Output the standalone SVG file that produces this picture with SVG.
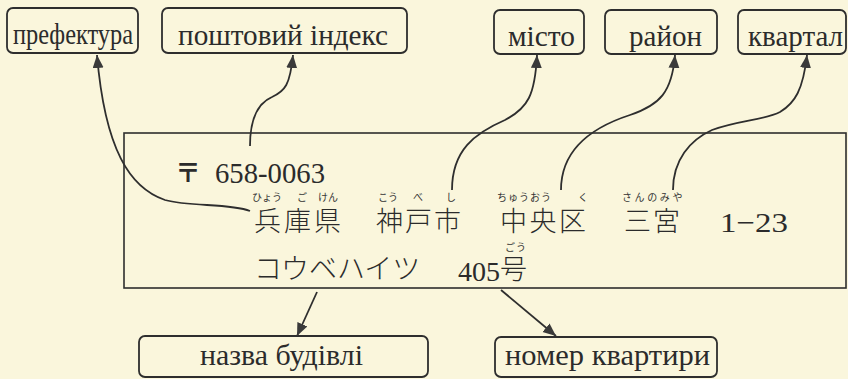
<svg xmlns="http://www.w3.org/2000/svg" width="848" height="379" viewBox="0 0 848 379">
<defs>
<style>
.box{fill:none;stroke:#2e2e2e;stroke-width:1.8}
.lbl{font-family:"Liberation Serif","Times New Roman",serif;font-size:29px;fill:#2b2b2b}
.num{font-family:"Liberation Serif","Noto Sans CJK JP",serif;fill:#2b2b2b}
.jp{font-family:"Noto Sans CJK JP","Noto Sans CJK SC",sans-serif;font-weight:300;fill:#2b2b2b}
.ruby{font-family:"Noto Sans CJK JP","Noto Sans CJK SC",sans-serif;font-size:10px;fill:#333}
.conn{fill:none;stroke:#2e2e2e;stroke-width:1.8;marker-end:url(#ah)}
</style>
<marker id="ah" markerUnits="userSpaceOnUse" markerWidth="14" markerHeight="12" refX="13" refY="5.5" orient="auto">
<path d="M0,0 L13,5.5 L0,11 Z" fill="#3a3a3a"/>
</marker>
</defs>
<rect width="848" height="379" fill="#faf6dc"/>

<g id="address">
<rect x="124" y="133" width="722" height="155" fill="none" stroke="#2e2e2e" stroke-width="1.6"/>
<text x="175" y="182" font-size="26" font-weight="bold" font-family="Noto Sans CJK JP, sans-serif" fill="#2b2b2b">〒</text>
<text class="num" x="215" y="183" font-size="29" textLength="110" lengthAdjust="spacingAndGlyphs">658-0063</text>
<text class="ruby" x="252" y="201">ひょう</text>
<text class="ruby" x="297" y="201">ご</text>
<text class="ruby" x="318" y="201">けん</text>
<text class="ruby" x="378" y="201">こう</text>
<text class="ruby" x="413" y="201">べ</text>
<text class="ruby" x="446" y="201">し</text>
<text class="ruby" x="497" y="201" letter-spacing="1">ちゅうおう</text>
<text class="ruby" x="578" y="201">く</text>
<text class="ruby" x="622" y="201" letter-spacing="2.6">さんのみや</text>
<text class="jp" x="254" y="231" font-size="27" letter-spacing="3">兵庫県</text>
<text class="jp" x="376" y="231" font-size="27" letter-spacing="2">神戸市</text>
<text class="jp" x="500" y="231" font-size="27" letter-spacing="2.5">中央区</text>
<text class="jp" x="624" y="231" font-size="27" letter-spacing="2">三宮</text>
<text class="num" x="720" y="232" font-size="28" textLength="68" lengthAdjust="spacingAndGlyphs">1−23</text>
<text class="ruby" x="505" y="251" letter-spacing="1">ごう</text>
<text class="jp" x="254" y="279" font-size="28">コウベハイツ</text>
<text class="num" x="458" y="281" font-size="28">405<tspan font-family="Noto Sans CJK JP, sans-serif" font-weight="300" font-size="27" dy="-2">号</tspan></text>
</g>

<g id="prefecture"><rect class="box" x="7" y="8" width="131" height="45" rx="6"/><text class="lbl" x="13" y="44" font-size="23" textLength="120" lengthAdjust="spacingAndGlyphs">префектура</text></g>
<g id="postcode"><rect class="box" x="162" y="8" width="245" height="45" rx="6"/><text class="lbl" x="178" y="45" textLength="210" lengthAdjust="spacingAndGlyphs">поштовий індекс</text></g>
<g id="city"><rect class="box" x="494" y="10" width="90" height="44" rx="6"/><text class="lbl" x="508" y="46" textLength="67" lengthAdjust="spacingAndGlyphs">місто</text></g>
<g id="district"><rect class="box" x="605" y="10" width="112" height="44" rx="6"/><text class="lbl" x="629" y="46" textLength="73" lengthAdjust="spacingAndGlyphs">район</text></g>
<g id="quarter"><rect class="box" x="738" y="10" width="108" height="44" rx="6"/><text class="lbl" x="748" y="46" textLength="95" lengthAdjust="spacingAndGlyphs">квартал</text></g>
<g id="building"><rect class="box" x="139" y="336" width="289" height="41" rx="6"/><text class="lbl" x="200" y="365" textLength="163" lengthAdjust="spacingAndGlyphs">назва будівлі</text></g>
<g id="apartment"><rect class="box" x="495" y="337" width="222" height="40" rx="6"/><text class="lbl" x="505" y="365" textLength="205" lengthAdjust="spacingAndGlyphs">номер квартири</text></g>

<g id="connectors">
<path class="conn" d="M250,211 C230,203 190,207 165,200 C130,188 105,150 97,55"/>
<path class="conn" d="M250,146 C250,118 258,103 272,97 C285,91 290,85 293,55"/>
<path class="conn" d="M452,190 C452,150 475,133 505,120 C528,108 535,95 537,55"/>
<path class="conn" d="M561,190 C561,150 590,128 630,115 C660,105 672,92 675,55"/>
<path class="conn" d="M673,190 C673,160 690,140 712,130 C740,120 765,120 780,112 C795,103 803,90 807,55"/>
<path class="conn" d="M317,292 L297,336"/>
<path class="conn" d="M501,290 L556,336"/>
</g>
</svg>
